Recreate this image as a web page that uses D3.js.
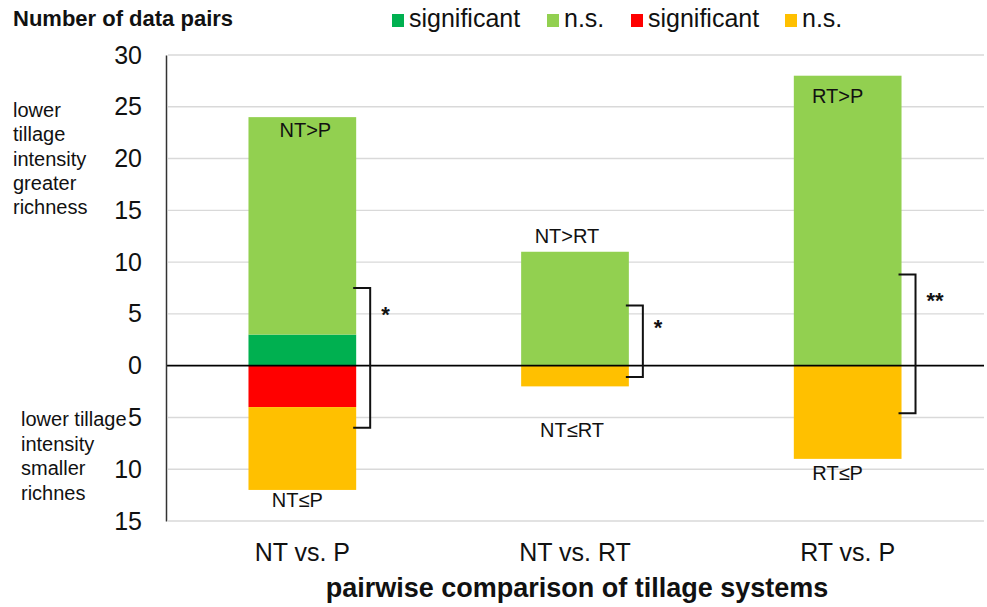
<!DOCTYPE html>
<html>
<head>
<meta charset="utf-8">
<script src="https://cdn.jsdelivr.net/npm/d3@7/dist/d3.min.js"></script>
<style>
  html, body { margin: 0; padding: 0; background: #fff; }
  svg { display: block; font-family: "Liberation Sans", Arial, sans-serif; }
</style>
</head>
<body>
<svg id="chart" width="987" height="607"></svg>
<script>
// ---- data ----
const categories = ["NT vs. P", "NT vs. RT", "RT vs. P"];
const posSignificant = [3, 0, 0];     // dark green
const posNS = [21, 11, 28];           // light green
const negSignificant = [-4, 0, 0];    // red
const negNS = [-8, -2, -9];           // orange
const yTicks = [-15, -10, -5, 0, 5, 10, 15, 20, 25, 30];
const legendLabels = ["significant", "n.s.", "significant", "n.s."];
const topLabels = ["NT>P", "NT>RT", "RT>P"];
const topLabelY = [22.1, 11.8, 25.4];
const bottomLabels = ["NT\u2264P", "NT\u2264RT", "RT\u2264P"];
const bottomLabelY = [-13.6, -6.9, -11.0];
const bracketTop = [7.5, 5.8, 8.8];
const bracketBottom = [-6, -1.1, -4.6];
const sigMarks = ["*", "*", "**"];
const sigMarkY = [5.3, 4.05, 6.65];

// ---- layout ----
const W = 987, H = 607;
const plot = { left: 166, right: 984, top: 55, bottom: 521 };
const colors = ["#00b050", "#92d050", "#ff0000", "#ffc000"];
const keys = ["posSig", "posNs", "negSig", "negNs"];

const svg = d3.select("#chart");

const table = categories.map((c, i) => ({
  cat: c, posSig: posSignificant[i], posNs: posNS[i], negSig: negSignificant[i], negNs: negNS[i]
}));
const series = d3.stack().keys(keys).offset(d3.stackOffsetDiverging)(table);

const x = d3.scaleBand().domain(categories).range([plot.left, plot.right]).paddingInner(0.605).paddingOuter(0.3025);
const y = d3.scaleLinear().domain([-15, 30]).range([plot.bottom, plot.top]);

// gridlines
svg.append("g").selectAll("line").data(yTicks.filter(t => t !== 0)).join("line")
  .attr("x1", plot.left + 2).attr("x2", plot.right)
  .attr("y1", d => y(d)).attr("y2", d => y(d))
  .attr("stroke", "#d9d9d9").attr("stroke-width", 1.4);

// bars
svg.append("g").selectAll("g").data(series).join("g")
  .attr("fill", (d, i) => colors[i])
  .selectAll("rect").data(d => d).join("rect")
  .attr("x", d => x(d.data.cat))
  .attr("width", x.bandwidth())
  .attr("y", d => y(Math.max(d[0], d[1])))
  .attr("height", d => Math.abs(y(d[0]) - y(d[1])));

// zero line
svg.append("line")
  .attr("x1", plot.left).attr("x2", plot.right)
  .attr("y1", y(0)).attr("y2", y(0))
  .attr("stroke", "#000").attr("stroke-width", 1.6);

// y axis
const yAxis = d3.axisLeft(y).tickValues(yTicks).tickFormat(d => Math.abs(d)).tickSize(0).tickPadding(24);
const ya = svg.append("g").attr("transform", `translate(${plot.left},0)`).call(yAxis);
ya.select(".domain").attr("stroke", "#333").attr("stroke-width", 1.5);
ya.selectAll("text").attr("font-size", 25).attr("fill", "#111")
  .attr("font-family", "Liberation Sans, Arial, sans-serif");

// x axis labels
const xAxis = d3.axisBottom(x).tickSize(0).tickPadding(22);
const xa = svg.append("g").attr("transform", `translate(0,${plot.bottom})`).call(xAxis);
xa.select(".domain").remove();
xa.selectAll("text").attr("font-size", 25).attr("fill", "#111")
  .attr("font-family", "Liberation Sans, Arial, sans-serif");

// bar labels
const labelDx = [3, -8, -10];
const bottomDx = [-5, -3, -10];
svg.append("g").selectAll("text").data(topLabels).join("text")
  .attr("x", (d, i) => x(categories[i]) + x.bandwidth() / 2 + labelDx[i])
  .attr("y", (d, i) => y(topLabelY[i]))
  .attr("text-anchor", "middle").attr("font-size", 20).attr("fill", "#111")
  .text(d => d);
svg.append("g").selectAll("text").data(bottomLabels).join("text")
  .attr("x", (d, i) => x(categories[i]) + x.bandwidth() / 2 + bottomDx[i])
  .attr("y", (d, i) => y(bottomLabelY[i]))
  .attr("text-anchor", "middle").attr("font-size", 20).attr("fill", "#111")
  .text(d => d);

// brackets
const bg = svg.append("g").attr("fill", "none").attr("stroke", "#111").attr("stroke-width", 2);
categories.forEach((c, i) => {
  const xr = x(c) + x.bandwidth();
  const xv = xr + 14;
  bg.append("path")
    .attr("d", `M${xr - 3},${y(bracketTop[i])}H${xv}V${y(bracketBottom[i])}H${xr - 3}`);
  svg.append("text")
    .attr("x", xv + 11).attr("y", y(sigMarkY[i]) + 11)
    .attr("font-size", 22).attr("font-weight", "bold").attr("fill", "#111")
    .text(sigMarks[i]);
});

// title
svg.append("text").attr("x", 13).attr("y", 26)
  .attr("font-size", 22).attr("font-weight", "bold").attr("fill", "#111")
  .text("Number of data pairs");

// legend
const legendX = [392, 547, 631, 785];
const lg = svg.append("g").selectAll("g").data(legendLabels).join("g")
  .attr("transform", (d, i) => `translate(${legendX[i]},0)`);
lg.append("rect").attr("x", 0).attr("y", 14).attr("width", 12).attr("height", 13)
  .attr("fill", (d, i) => colors[i]);
lg.append("text").attr("x", 17).attr("y", 27).attr("font-size", 25).attr("fill", "#111")
  .text(d => d);

// side labels
const upperLines = ["lower", "tillage", "intensity", "greater", "richness"];
svg.append("g").selectAll("text").data(upperLines).join("text")
  .attr("x", 13).attr("y", (d, i) => 117 + i * 24.3)
  .attr("font-size", 20).attr("fill", "#111").text(d => d);
const lowerLines = ["lower tillage", "intensity", "smaller", "richnes"];
svg.append("g").selectAll("text").data(lowerLines).join("text")
  .attr("x", 21).attr("y", (d, i) => 426 + i * 24.7)
  .attr("font-size", 20).attr("fill", "#111").text(d => d);

// x axis title
svg.append("text").attr("x", 577).attr("y", 597)
  .attr("text-anchor", "middle").attr("font-size", 27).attr("font-weight", "bold").attr("fill", "#111")
  .text("pairwise comparison of tillage systems");
</script>
</body>
</html>
